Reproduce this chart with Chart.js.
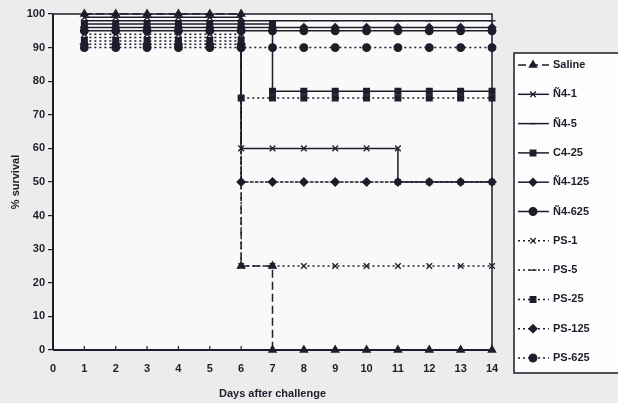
<!DOCTYPE html>
<html><head><meta charset="utf-8">
<script src="https://cdn.jsdelivr.net/npm/chart.js@4/dist/chart.umd.min.js"></script>
<style>html,body{margin:0;padding:0;background:#ececec;}#wrap{width:618px;height:403px;position:relative;}</style>
</head><body><div id="wrap"><canvas id="c"></canvas></div>
<script>
// ---- data (small offsets near 100% separate overlapping groups) ----
const seriesLabels = ['Saline','Ñ4-1','Ñ4-5','C4-25','Ñ4-125','Ñ4-625','PS-1','PS-5','PS-25','PS-125','PS-625'];
const xTickValues = [0,1,2,3,4,5,6,7,8,9,10,11,12,13,14];
const yTickValues = [0,10,20,30,40,50,60,70,80,90,100];

const salineX = [1,2,3,4,5,6,6,7,7,8,9,10,11,12,13,14];
const salineY = [100,100,100,100,100,100,25,25,0,0,0,0,0,0,0,0];
const n41X = [1,2,3,4,5,6,6,7,8,9,10,11,11,12,13,14];
const n41Y = [99,99,99,99,99,99,60,60,60,60,60,60,50,50,50,50];
const n45X = [1,2,3,4,5,6,7,8,9,10,11,12,13,14];
const n45Y = [98,98,98,98,98,98,98,98,98,98,98,98,98,98];
const c425X = [1,2,3,4,5,6,7,7,8,9,10,11,12,13,14];
const c425Y = [97,97,97,97,97,97,97,77,77,77,77,77,77,77,77];
const n4125X = [1,2,3,4,5,6,7,8,9,10,11,12,13,14];
const n4125Y = [96,96,96,96,96,96,96,96,96,96,96,96,96,96];
const n4625X = [1,2,3,4,5,6,7,8,9,10,11,12,13,14];
const n4625Y = [95,95,95,95,95,95,95,95,95,95,95,95,95,95];
const ps1X = [1,2,3,4,5,6,6,7,8,9,10,11,12,13,14];
const ps1Y = [94,94,94,94,94,94,25,25,25,25,25,25,25,25,25];
const ps5X = [1,2,3,4,5,6,6,7,8,9,10,11,12,13,14];
const ps5Y = [93,93,93,93,93,93,50,50,50,50,50,50,50,50,50];
const ps25X = [1,2,3,4,5,6,6,7,8,9,10,11,12,13,14];
const ps25Y = [92,92,92,92,92,92,75,75,75,75,75,75,75,75,75];
const ps125X = [1,2,3,4,5,6,6,7,8,9,10,11,12,13,14];
const ps125Y = [91,91,91,91,91,91,50,50,50,50,50,50,50,50,50];
const ps625X = [1,2,3,4,5,6,6,7,8,9,10,11,12,13,14];
const ps625Y = [90,90,90,90,90,90,90,90,90,90,90,90,90,90,90];

const seriesX = [salineX,n41X,n45X,c425X,n4125X,n4625X,ps1X,ps5X,ps25X,ps125X,ps625X];
const seriesY = [salineY,n41Y,n45Y,c425Y,n4125Y,n4625Y,ps1Y,ps5Y,ps25Y,ps125Y,ps625Y];

// ---- styles ----
const INK = '#1d1d2b';
const styles = [
  {dash:[8,4], ps:'triangle', r:4.2},
  {dash:[], ps:'crossRot', r:4},
  {dash:[], ps:'line', r:3.5},
  {dash:[], ps:'rect', r:4},
  {dash:[], ps:'rectRot', r:3.8},
  {dash:[], ps:'circle', r:3.8},
  {dash:[2,3], ps:'crossRot', r:4},
  {dash:[2,3], ps:'line', r:3.5},
  {dash:[2,3], ps:'rect', r:4},
  {dash:[2,3], ps:'rectRot', r:4},
  {dash:[2,3], ps:'circle', r:3.8}
];

const datasets = seriesLabels.map((lab,i)=>({
  label: lab,
  data: seriesX[i].map((x,k)=>({x:x, y:seriesY[i][k]})),
  borderColor: INK,
  backgroundColor: INK,
  borderWidth: 1.5,
  borderDash: styles[i].dash,
  pointStyle: styles[i].ps,
  pointRadius: styles[i].r,
  pointBorderWidth: 1.3,
  pointBorderColor: INK,
  pointBackgroundColor: INK,
  tension: 0,
  clip: false
}));

const FONT = '"Liberation Sans", Arial, sans-serif';

const decor = {
  id: 'decor',
  beforeDraw(chart){
    const {ctx, chartArea:a} = chart;
    ctx.save();
    ctx.fillStyle = '#ececec';
    ctx.fillRect(0,0,chart.width,chart.height);
    ctx.fillStyle = '#f9f9f9';
    ctx.fillRect(a.left,a.top,a.right-a.left,a.bottom-a.top);
    ctx.restore();
  },
  afterDatasetsDraw(chart){
    const {ctx, chartArea:a, scales} = chart;
    ctx.save();
    ctx.strokeStyle = INK;
    ctx.lineWidth = 1.5;
    ctx.beginPath();
    ctx.moveTo(a.left, a.top); ctx.lineTo(a.right, a.top); ctx.lineTo(a.right, a.bottom);
    ctx.stroke();
    ctx.lineWidth = 2;
    ctx.beginPath(); ctx.moveTo(a.left, a.bottom); ctx.lineTo(a.right, a.bottom); ctx.stroke();
    ctx.beginPath(); ctx.moveTo(a.left, a.top); ctx.lineTo(a.left, a.bottom); ctx.stroke();
    ctx.lineWidth = 1.2;
    xTickValues.forEach(v=>{
      const px = scales.x.getPixelForValue(v);
      ctx.beginPath(); ctx.moveTo(px, a.bottom); ctx.lineTo(px, a.bottom-4); ctx.stroke();
    });
    ctx.fillStyle = INK;
    ctx.font = 'bold 11px ' + FONT;
    ctx.textAlign = 'center';
    ctx.textBaseline = 'middle';
    ctx.fillText('Days after challenge', (a.left+a.right)/2, 394);
    ctx.translate(16, (a.top+a.bottom)/2);
    ctx.rotate(-Math.PI/2);
    ctx.fillText('% survival', 0, 0);
    ctx.restore();
  },
  afterDraw(chart){
    const ctx = chart.ctx;
    ctx.save();
    const x0 = 514, y0 = 53, w = 110, h = 320;
    ctx.fillStyle = '#fdfdfd';
    ctx.fillRect(x0,y0,w,h);
    ctx.strokeStyle = INK; ctx.lineWidth = 1.5;
    ctx.strokeRect(x0,y0,w,h);
    chart.data.datasets.forEach((ds,i)=>{
      const y = 65 + i*29.3;
      ctx.strokeStyle = INK; ctx.lineWidth = 1.5;
      ctx.setLineDash(ds.borderDash);
      ctx.beginPath(); ctx.moveTo(518,y); ctx.lineTo(549,y); ctx.stroke();
      ctx.setLineDash([]);
      ctx.fillStyle = INK; ctx.lineWidth = 1.3;
      Chart.helpers.drawPoint(ctx, {pointStyle: ds.pointStyle, radius: ds.pointRadius, borderWidth: 1.3, rotation: 0}, 533, y);
      ctx.fillStyle = INK;
      ctx.font = 'bold 11px ' + FONT;
      ctx.textAlign = 'left'; ctx.textBaseline = 'middle';
      ctx.fillText(ds.label, 553, y);
    });
    ctx.restore();
  }
};

new Chart(document.getElementById('c'), {
  type: 'line',
  data: { datasets },
  options: {
    responsive: true,
    maintainAspectRatio: false,
    animation: false,
    devicePixelRatio: 1,
    layout: { padding: { left: 0, right: 126, top: 14, bottom: 0 } },
    plugins: { legend: { display: false }, tooltip: { enabled: false } },
    scales: {
      x: {
        type: 'linear', min: 0, max: 14,
        afterFit: s => { s.height = 53; },
        afterBuildTicks: s => { s.ticks = xTickValues.map(v=>({value:v})); },
        ticks: { color: INK, font: { family: FONT, size: 11, weight: 'bold' }, padding: 12, maxRotation: 0, autoSkip: false },
        grid: { display: false, drawTicks: false },
        border: { display: false }
      },
      y: {
        type: 'linear', min: 0, max: 100,
        afterFit: s => { s.width = 53; },
        afterBuildTicks: s => { s.ticks = yTickValues.map(v=>({value:v})); },
        ticks: { color: INK, font: { family: FONT, size: 11, weight: 'bold' }, padding: 3 },
        grid: { drawOnChartArea: false, drawTicks: true, tickLength: 5, color: INK, lineWidth: 1.2 },
        border: { display: false }
      }
    }
  },
  plugins: [decor]
});
</script>
</body></html>
